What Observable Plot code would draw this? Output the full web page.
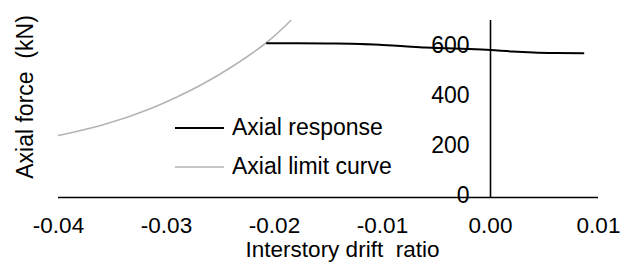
<!DOCTYPE html>
<html>
<head>
<meta charset="utf-8">
<script src="https://cdn.jsdelivr.net/npm/d3@7"></script>
<script src="https://cdn.jsdelivr.net/npm/@observablehq/plot@0.6"></script>
<style>
  html, body { margin: 0; padding: 0; background: #fff; }
  #wrap { position: relative; width: 631px; height: 262px; font-family: "Liberation Sans", Arial, sans-serif; }
  .legend { position: absolute; left: 175px; top: 108px; font-size: 23px; color: #000; line-height: 39px; }
  .legend .item { display: flex; align-items: center; height: 39px; }
  .legend svg { margin-right: 8px; }
</style>
</head>
<body>
<div id="wrap"></div>
<script>
// Axial response (black)
const respDrift = [-0.0207, -0.018, -0.015, -0.012, -0.010, -0.008, -0.006, -0.004, -0.002, 0.000, 0.002, 0.004, 0.006, 0.0086];
const respForce = [617, 617, 616, 614, 610, 605, 600, 597, 594, 590, 584, 580, 578, 577];

// Axial limit curve (gray)
const limDrift = [-0.0400, -0.0361, -0.0315, -0.0269, -0.0238, -0.0207, -0.0185];
const limForce = [248, 288, 355, 448, 527, 621, 708];

const xTicks = [-0.04, -0.03, -0.02, -0.01, 0.00, 0.01];
const xTickLabels = ["-0.04", "-0.03", "-0.02", "-0.01", "0.00", "0.01"];
const yTicks = [0, 200, 400, 600];

const seriesNames = ["Axial response", "Axial limit curve"];
const seriesColors = ["#000000", "#b4b4b4"];
const seriesWidths = [2, 1.6];

const resp = respDrift.map((d, i) => ({x: d, y: respForce[i]}));
const lim = limDrift.map((d, i) => ({x: d, y: limForce[i]}));

const font = "Liberation Sans, Arial, sans-serif";

const chart = Plot.plot({
  width: 631,
  height: 262,
  marginLeft: 58,
  marginRight: 33,
  marginTop: 20,
  marginBottom: 65,
  style: {fontFamily: font, fontSize: "23px", background: "#fff", color: "#000"},
  x: {domain: [-0.04, 0.01]},
  y: {domain: [0, 708]},
  marks: [
    Plot.axisX({ticks: xTicks, tickFormat: (d, i) => xTickLabels[i], tickSize: 0, tickPadding: 20, fontSize: 22.5, label: null}),
    Plot.axisY({ticks: [], label: null, tickSize: 0}),
    Plot.line(lim, {x: "x", y: "y", stroke: seriesColors[1], strokeWidth: seriesWidths[1], curve: "natural"}),
    Plot.line(resp, {x: "x", y: "y", stroke: seriesColors[0], strokeWidth: seriesWidths[0], curve: "monotone-x"}),
    Plot.ruleY([0], {stroke: "#000", strokeWidth: 1.6}),
    Plot.ruleX([0], {stroke: "#000", strokeWidth: 1.6}),
    Plot.text(yTicks, {x: 0, y: d => d, text: d => String(d), textAnchor: "end", dx: -21, dy: -2, fontSize: 23}),
    Plot.text(["Interstory drift  ratio"], {frameAnchor: "bottom", text: d => d, dx: 14, dy: 59, fontSize: 22.5}),
    Plot.text(["Axial force  (kN)"], {frameAnchor: "left", text: d => d, textAnchor: "middle", rotate: -90, dx: -33, dy: -12, fontSize: 23})
  ]
});

const wrap = document.getElementById("wrap");
wrap.appendChild(chart);

const legend = document.createElement("div");
legend.className = "legend";
seriesNames.forEach((name, i) => {
  const item = document.createElement("div");
  item.className = "item";
  item.innerHTML = `<svg width="49" height="6"><line x1="0" x2="49" y1="3" y2="3" stroke="${seriesColors[i]}" stroke-width="${seriesWidths[i]}"/></svg><span>${name}</span>`;
  legend.appendChild(item);
});
wrap.appendChild(legend);
</script>
</body>
</html>
